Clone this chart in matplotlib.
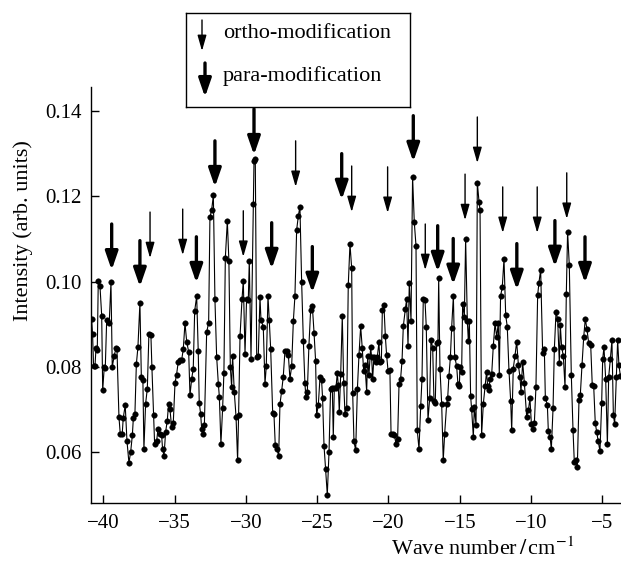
import matplotlib
matplotlib.use("Agg")
import matplotlib.pyplot as plt
import numpy as np

plt.rcParams['font.family'] = ['Liberation Serif', 'DejaVu Serif']
plt.rcParams['mathtext.fontset'] = 'stix'

# spectrum
wn_1 = [-40.82, -40.75, -40.68, -40.58, -40.51, -40.42, -40.35, -40.23, -40.11, -40.04,
        -39.93, -39.86, -39.76, -39.58, -39.46, -39.37, -39.23, -39.11, -39.04, -38.90,
        -38.81, -38.67, -38.60, -38.46, -38.34, -38.20, -38.08, -37.96, -37.89, -37.78,
        -37.68, -37.57, -37.43, -37.33, -37.22, -37.15, -37.03, -36.91, -36.80, -36.66,
        -36.59, -36.47, -36.40, -36.26, -36.16]
int_1 = [0.0912, 0.0877, 0.0802, 0.0802, 0.0844, 0.0840, 0.1002, 0.0989, 0.0920, 0.0745,
         0.0800, 0.0797, 0.0910, 0.0904, 0.0998, 0.0800, 0.0826, 0.0844, 0.0842, 0.0683,
         0.0643, 0.0643, 0.0680, 0.0710, 0.0627, 0.0575, 0.0600, 0.0640, 0.0680, 0.0690,
         0.0806, 0.0846, 0.0950, 0.0776, 0.0768, 0.0607, 0.0714, 0.0749, 0.0877, 0.0875,
         0.0800, 0.0686, 0.0620, 0.0625, 0.0655]

wn_2 = [-36.02, -35.91, -35.84, -35.74, -35.63, -35.51, -35.42, -35.32, -35.21, -35.09,
        -34.97, -34.86, -34.74, -34.62, -34.50, -34.39, -34.27, -34.15, -34.01, -33.92,
        -33.80, -33.69, -33.59, -33.45, -33.34, -33.27, -33.17, -33.10, -32.98, -32.91,
        -32.75, -32.61, -32.52, -32.40, -32.28, -32.17, -32.05, -31.93, -31.86, -31.75,
        -31.63, -31.54, -31.44, -31.30, -31.19, -31.09, -31.00, -30.93, -30.81, -30.69,
        -30.58, -30.51, -30.41, -30.27, -30.18, -30.06, -29.95, -29.83, -29.76, -29.64,
        -29.48, -29.43, -29.34, -29.24, -29.13, -29.01, -28.94, -28.78, -28.66, -28.57,
        -28.45, -28.36, -28.26, -28.12, -28.03, -27.94, -27.82, -27.70, -27.61, -27.49,
        -27.38, -27.26, -27.14, -27.02, -26.91, -26.79, -26.67, -26.56, -26.44, -26.32,
        -26.21]
int_2 = [0.0643, 0.0640, 0.0607, 0.0591, 0.0647, 0.0674, 0.0714, 0.0700, 0.0659, 0.0669,
         0.0762, 0.0782, 0.0812, 0.0816, 0.0817, 0.0841, 0.0903, 0.0859, 0.0835, 0.0733,
         0.0772, 0.0796, 0.0931, 0.0966, 0.0836, 0.0716, 0.0689, 0.0654, 0.0643, 0.0664,
         0.0881, 0.0904, 0.1151, 0.1168, 0.1202, 0.0959, 0.0824, 0.0760, 0.0730, 0.0619,
         0.0703, 0.0786, 0.1056, 0.1142, 0.1048, 0.0800, 0.0753, 0.0826, 0.0740, 0.0683,
         0.0581, 0.0686, 0.0872, 0.0959, 0.1002, 0.0831, 0.0959, 0.0957, 0.1049, 0.0819,
         0.1183, 0.1282, 0.1287, 0.0824, 0.0826, 0.0963, 0.0910, 0.0894, 0.0760, 0.0801,
         0.0966, 0.0910, 0.0841, 0.0692, 0.0689, 0.0617, 0.0607, 0.0591, 0.0712, 0.0744,
         0.0776, 0.0837, 0.0838, 0.0827, 0.0772, 0.0801, 0.0908, 0.0966, 0.1121, 0.1154,
         0.1176]

wn_3 = [-26.09, -25.97, -25.86, -25.79, -25.69, -25.58, -25.46, -25.34, -25.22, -25.11,
        -25.04, -24.92, -24.80, -24.69, -24.62, -24.52, -24.41, -24.29, -24.17, -24.06,
        -23.94, -23.87, -23.80, -23.68, -23.59, -23.52, -23.45, -23.35, -23.24, -23.14,
        -23.05, -22.93, -22.82, -22.70, -22.58, -22.51, -22.42, -22.30, -22.18, -22.07,
        -21.95, -21.84, -21.74, -21.65, -21.53, -21.46, -21.37, -21.25, -21.18, -21.11,
        -21.02, -20.90, -20.78, -20.67, -20.60, -20.50, -20.43, -20.32, -20.22, -20.13,
        -20.03, -19.90, -19.82, -19.71, -19.59, -19.47, -19.36, -19.26, -19.15, -19.05,
        -18.96, -18.82, -18.73, -18.63, -18.54, -18.42, -18.31, -18.19, -18.07, -17.98,
        -17.86, -17.74, -17.65, -17.56, -17.44, -17.35, -17.23, -17.11, -17.02, -16.90,
        -16.81, -16.72, -16.62, -16.53, -16.48, -16.39, -16.27, -16.16, -16.06, -15.92,
        -15.85, -15.76, -15.66, -15.57, -15.45, -15.36, -15.22, -15.13, -15.03]
int_3 = [0.1000, 0.0861, 0.0761, 0.0730, 0.0742, 0.0849, 0.0933, 0.0943, 0.0880, 0.0814,
         0.0687, 0.0711, 0.0776, 0.0768, 0.0726, 0.0615, 0.0560, 0.0500, 0.0600, 0.0748,
         0.0751, 0.0636, 0.0750, 0.0751, 0.0786, 0.0757, 0.0693, 0.0784, 0.0919, 0.0762,
         0.0690, 0.0704, 0.0992, 0.1088, 0.1031, 0.0738, 0.0625, 0.0604, 0.0748, 0.0827,
         0.0895, 0.0844, 0.0790, 0.0804, 0.0742, 0.0826, 0.0780, 0.0846, 0.0822, 0.0771,
         0.0824, 0.0812, 0.0824, 0.0858, 0.0811, 0.0813, 0.0933, 0.0945, 0.0872, 0.0827,
         0.0791, 0.0792, 0.0643, 0.0643, 0.0641, 0.0619, 0.0630, 0.0760, 0.0772, 0.0814,
         0.0895, 0.0935, 0.0958, 0.0849, 0.0996, 0.0908, 0.1246, 0.1139, 0.1084, 0.0651,
         0.0607, 0.0708, 0.0772, 0.0959, 0.0956, 0.0894, 0.0676, 0.0726, 0.0864, 0.0844,
         0.0721, 0.0716, 0.0857, 0.0859, 0.1008, 0.0796, 0.0713, 0.0581, 0.0643, 0.0713,
         0.0726, 0.0779, 0.0822, 0.0892, 0.0966, 0.0824, 0.0802, 0.0760, 0.0754]

wn_4 = [-14.99, -14.87, -14.80, -14.68, -14.59, -14.47, -14.40, -14.33, -14.24, -14.17,
        -14.05, -13.98, -13.86, -13.77, -13.65, -13.58, -13.47, -13.35, -13.23, -13.12,
        -13.05, -12.95, -12.88, -12.76, -12.65, -12.53, -12.41, -12.30, -12.23, -12.14,
        -12.02, -11.90, -11.78, -11.67, -11.55, -11.43, -11.36, -11.25, -11.13, -11.01,
        -10.89, -10.78, -10.71, -10.59, -10.47, -10.31, -10.19, -10.08, -9.98, -9.89,
        -9.77, -9.66, -9.54, -9.45, -9.33, -9.19, -9.07, -9.00, -8.86, -8.79,
        -8.67, -8.58, -8.46, -8.37, -8.25, -8.14, -8.02, -7.95, -7.86, -7.74,
        -7.62, -7.53, -7.44, -7.32, -7.18, -7.06, -6.97, -6.85, -6.76, -6.64,
        -6.55, -6.43, -6.31, -6.20, -6.08, -5.96, -5.82, -5.71, -5.61, -5.50,
        -5.40, -5.29, -5.17, -5.05, -4.98, -4.89, -4.77, -4.65, -4.56, -4.44,
        -4.33, -4.23, -4.14, -4.02, -3.93, -3.84, -3.74]
int_4 = [0.0800, 0.0788, 0.0947, 0.0918, 0.1100, 0.0908, 0.0860, 0.0908, 0.0731, 0.0701,
         0.0636, 0.0705, 0.0663, 0.1232, 0.1187, 0.1168, 0.0640, 0.0713, 0.0754, 0.0789,
         0.0756, 0.0746, 0.0772, 0.0784, 0.0849, 0.0902, 0.0870, 0.0903, 0.0782, 0.0966,
         0.0987, 0.1053, 0.0921, 0.0894, 0.0791, 0.0719, 0.0651, 0.0796, 0.0826, 0.0859,
         0.0804, 0.0776, 0.0742, 0.0811, 0.0761, 0.0683, 0.0698, 0.0726, 0.0667, 0.0655,
         0.0669, 0.0752, 0.0968, 0.0997, 0.1028, 0.0833, 0.0841, 0.0727, 0.0711, 0.0649,
         0.0636, 0.0607, 0.0703, 0.0841, 0.0929, 0.0913, 0.0810, 0.0898, 0.0847, 0.0826,
         0.0752, 0.0971, 0.1117, 0.1038, 0.0782, 0.0652, 0.0577, 0.0581, 0.0564, 0.0723,
         0.0733, 0.0804, 0.0870, 0.0912, 0.0888, 0.0855, 0.0851, 0.0757, 0.0755, 0.0669,
         0.0647, 0.0625, 0.0602, 0.0716, 0.0818, 0.0846, 0.0772, 0.0619, 0.0776, 0.0819,
         0.0862, 0.0687, 0.0666, 0.0776, 0.0862, 0.0804, 0.0779]

# arrow marks: wave number and intensity at the arrow tip
ortho_x = [-36.72, -34.43, -30.18, -26.51, -22.58, -20.06, -17.42, -14.63, -13.77, -11.99, -9.57, -7.50]
ortho_tip = [0.1055, 0.1062, 0.1058, 0.1222, 0.1163, 0.1161, 0.1027, 0.1144, 0.1278, 0.1114, 0.1114, 0.1147]
para_x = [-39.41, -37.43, -33.47, -32.17, -29.43, -28.19, -25.34, -23.28, -18.26, -16.55, -15.46, -11.00, -8.33, -6.22]
para_tip = [0.1027, 0.0988, 0.0997, 0.1222, 0.1297, 0.1030, 0.0974, 0.1192, 0.1281, 0.1023, 0.0993, 0.0981, 0.1035, 0.0997]

x_ticks = [-40, -35, -30, -25, -20, -15, -10, -5]
y_ticks = [0.06, 0.08, 0.10, 0.12, 0.14]

wn = np.array(wn_1 + wn_2 + wn_3 + wn_4)
inten = np.array(int_1 + int_2 + int_3 + int_4)

W, H = 621, 568
fig = plt.figure(figsize=(W / 100, H / 100), dpi=100)
ax = fig.add_axes([91 / W, 64.7 / H, (W - 91) / W, (503.3 - 86.7) / H])

ax.plot(wn, inten, '-', color='k', lw=0.8, marker='o', ms=4.0,
        mfc='k', mec='k', mew=0.3)

arrow_len = 0.0108
thin = dict(arrowstyle='-|>,head_length=0.95,head_width=0.27', mutation_scale=10,
            lw=1.0, color='k', shrinkA=0, shrinkB=0)
thick = dict(arrowstyle='-|>,head_length=1.1,head_width=0.38', mutation_scale=10,
             lw=2.4, color='k', shrinkA=0, shrinkB=0)
for x, t in zip(ortho_x, ortho_tip):
    ax.annotate('', xy=(x, t), xytext=(x, t + arrow_len), arrowprops=thin)
for x, t in zip(para_x, para_tip):
    ax.annotate('', xy=(x, t), xytext=(x, t + arrow_len), arrowprops=thick)

ax.set_xlim(-40.86, -3.695)
ax.set_ylim(0.048, 0.1457)
ax.set_xticks(x_ticks)
ax.set_yticks(y_ticks)
ax.set_yticklabels(['%.2f' % v for v in y_ticks])
ax.tick_params(direction='in', length=6, width=1.0, labelsize=15)
ax.tick_params(axis='x', pad=8)
ax.tick_params(axis='y', pad=6.5)
for s in ['top', 'right']:
    ax.spines[s].set_visible(False)
for s in ['left', 'bottom']:
    ax.spines[s].set_linewidth(1.0)

fig.text(23 / W, 1 - 231 / H, 'Intensity (arb. units)', rotation=90,
         ha='center', va='center', fontsize=16)
fig.text(574 / W, 1 - 549 / H, r'Wave number$\,/\,$cm$^{-1}$',
         ha='right', va='center', fontsize=16)

# legend box
leg = fig.add_axes([186 / W, 1 - 107 / H, 224 / W, 94 / H])
leg.set_xlim(0, 224)
leg.set_ylim(94, 0)
leg.set_xticks([])
leg.set_yticks([])
for s in leg.spines.values():
    s.set_linewidth(1.0)
leg.annotate('', xy=(16, 38), xytext=(16, 7), arrowprops=thin)
leg.annotate('', xy=(19, 84), xytext=(19, 50), arrowprops=thick)
leg.text(37, 20, 'ortho-modification', va='center', ha='left', fontsize=16)
leg.text(37, 63, 'para-modification', va='center', ha='left', fontsize=16)

fig.savefig('out.png', dpi=100)
